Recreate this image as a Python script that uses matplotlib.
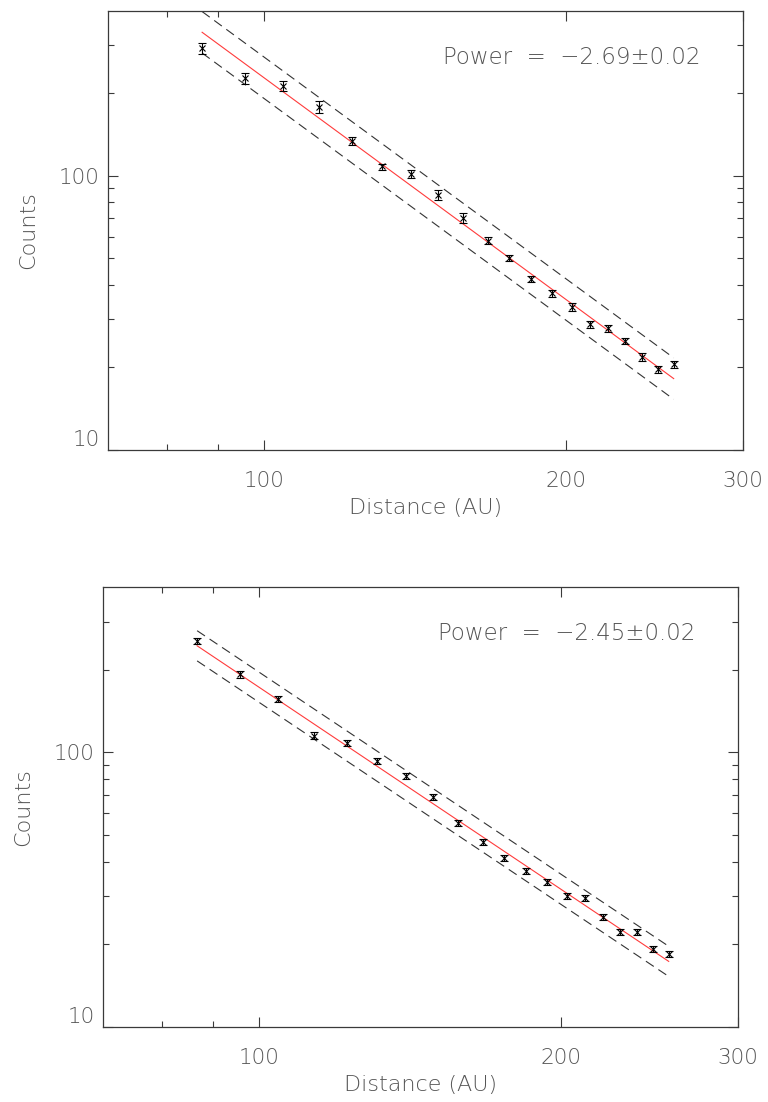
import matplotlib
matplotlib.use("Agg")
import numpy as np
import matplotlib.pyplot as plt
from matplotlib.ticker import FixedLocator, NullFormatter

# radial bins (AU), same for both profiles
distance = [86.8, 95.7, 104.6, 113.4, 122.4, 131.2, 140.1, 149.0, 157.8, 167.0,
            175.6, 184.6, 193.5, 202.6, 211.3, 220.0, 228.9, 238.1, 246.7, 255.9]

# upper profile
counts_a = [291.3, 226.6, 212.5, 178.2, 134.1, 108.1, 101.4, 85.1, 70.2, 58.0,
            50.2, 42.1, 37.3, 33.2, 28.7, 27.8, 25.0, 21.8, 19.7, 20.5]
err_a = [13.0, 9.7, 8.7, 9.0, 4.5, 2.7, 3.6, 3.6, 2.7, 1.6,
         1.3, 1.05, 1.05, 1.05, 0.8, 0.78, 0.7, 0.68, 0.55, 0.57]
power_a, power_err_a = -2.69, 0.02
norm_a = 228.0      # fitted counts at 100 AU
band_a = 1.19       # dashed envelope factor

# lower profile
counts_b = [255.1, 192.4, 156.4, 115.0, 108.4, 93.2, 82.2, 68.7, 55.1, 47.2,
            41.3, 37.0, 33.7, 30.0, 29.4, 25.2, 22.1, 22.1, 19.2, 18.4]
err_b = [7.0, 5.0, 4.0, 3.5, 3.0, 2.4, 2.0, 1.7, 1.4, 1.2,
         1.0, 0.9, 0.85, 0.75, 0.75, 0.65, 0.55, 0.55, 0.5, 0.45]
power_b, power_err_b = -2.45, 0.02
norm_b = 173.0
band_b = 1.135

TXT = "#555555"
AXC = "#3a3a3a"
FONT = dict(family="DejaVu Sans", weight=200, color=TXT)


def profile_panel(ax, x, y, yerr, power, perr, norm, band):
    x = np.asarray(x)
    xf = np.linspace(x[0], x[-1], 200)
    fit = norm * (xf / 100.0) ** power

    ax.plot(xf, fit, color="#ff3b3b", lw=0.8, zorder=2)
    ax.plot(xf, fit * band, color="#333333", lw=0.8, dashes=(8.5, 5), zorder=2)
    ax.plot(xf, fit / band, color="#333333", lw=0.8, dashes=(8.5, 5), zorder=2)
    ax.errorbar(x, y, yerr=yerr, fmt="x", color="black", ms=4.2, mew=0.8,
                elinewidth=0.8, capsize=2.6, capthick=0.8, zorder=3)

    ax.set_xscale("log")
    ax.set_yscale("log")
    ax.set_xlim(70, 300)
    ax.set_ylim(10, 400)

    ax.xaxis.set_major_locator(FixedLocator([100, 200, 300]))
    ax.xaxis.set_minor_locator(FixedLocator([80, 90]))
    ax.yaxis.set_major_locator(FixedLocator([10, 100]))
    ax.yaxis.set_minor_locator(FixedLocator([20, 30, 40, 50, 60, 70, 80, 90, 200, 300]))
    ax.set_xticklabels(["100", "200", "300"], **FONT, fontsize=15.5)
    ax.set_yticklabels(["10", "100"], **FONT, fontsize=15.5)
    ax.xaxis.set_minor_formatter(NullFormatter())
    ax.yaxis.set_minor_formatter(NullFormatter())

    ax.tick_params(which="both", direction="in", top=True, right=True,
                   color=AXC, width=0.8)
    ax.tick_params(which="major", length=7.2)
    ax.tick_params(which="minor", length=4.0)
    ax.tick_params(axis="x", pad=15)
    ax.tick_params(axis="y", pad=6)
    ax.yaxis.get_major_ticks()[0].label1.set_verticalalignment("bottom")

    for sp in ax.spines.values():
        sp.set_color(AXC)
        sp.set_linewidth(0.9)

    ax.set_xlabel("Distance (AU)", **FONT, fontsize=16, labelpad=5)
    ax.set_ylabel("Counts", **FONT, fontsize=16, labelpad=15)
    ax.text(0.528, 0.894, "Power  =  \u2212%.2f\u00b1%.2f" % (abs(power), perr),
            transform=ax.transAxes, ha="left", va="center", fontsize=16.5, **FONT)


fig = plt.figure(figsize=(7.68, 11.02), dpi=100)
ax1 = fig.add_axes([0.141, 0.5917, 0.8265, 0.3986])
ax2 = fig.add_axes([0.1345, 0.0683, 0.8265, 0.3988])

profile_panel(ax1, distance, counts_a, err_a, power_a, power_err_a, norm_a, band_a)
profile_panel(ax2, distance, counts_b, err_b, power_b, power_err_b, norm_b, band_b)

fig.savefig("out.png", dpi=100)
